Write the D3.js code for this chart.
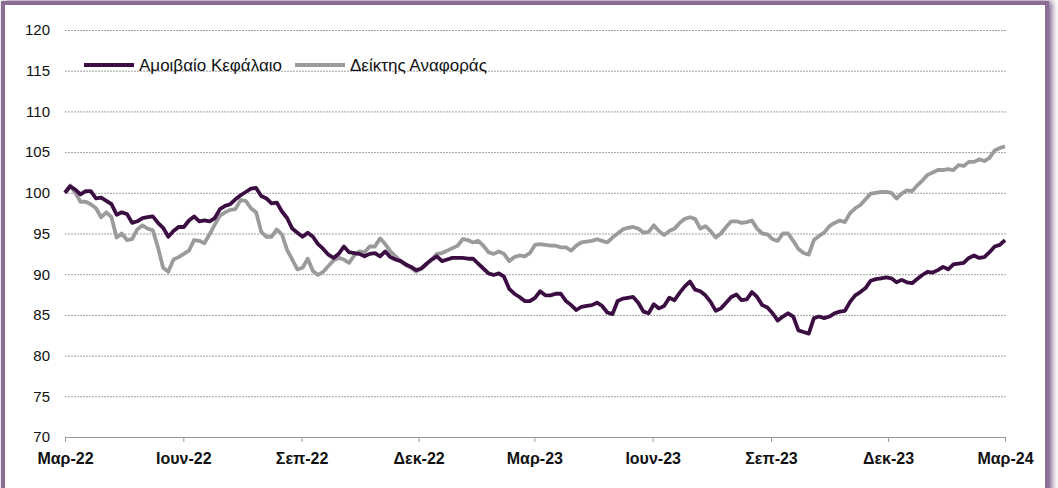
<!DOCTYPE html>
<html>
<head>
<meta charset="utf-8">
<script src="https://cdn.jsdelivr.net/npm/d3@7"></script>
<style>
  body { margin: 0; background: #fff; }
  text { font-family: "Liberation Sans", Arial, sans-serif; }
</style>
</head>
<body>
<div id="chart"></div>
<script>
// series names and tick labels
var seriesNames = ["Αμοιβαίο Κεφάλαιο", "Δείκτης Αναφοράς"];
var tickLabels = ["Μαρ-22", "Ιουν-22", "Σεπ-22", "Δεκ-22", "Μαρ-23", "Ιουν-23", "Σεπ-23", "Δεκ-23", "Μαρ-24"];
var tickDates = ["2022-03-01", "2022-06-01", "2022-09-01", "2022-12-01", "2023-03-01", "2023-06-01", "2023-09-01", "2023-12-01", "2024-03-01"];
var yTicks = [70, 75, 80, 85, 90, 95, 100, 105, 110, 115, 120];

// fund (evenly spaced Mar-22 .. Mar-24)
var fund = [100.0, 100.8, 100.4, 99.8, 100.2, 100.2, 99.3, 99.4, 99.0, 98.6,
    97.3, 97.6, 97.4, 96.3, 96.5, 96.9, 97.0, 97.1, 96.3, 95.7,
    94.6, 95.3, 95.8, 95.8, 96.6, 97.1, 96.5, 96.6, 96.5, 96.9,
    98.0, 98.4, 98.6, 99.2, 99.7, 100.1, 100.5, 100.6, 99.6, 99.3,
    98.7, 98.8, 97.7, 96.9, 95.6, 95.1, 94.6, 95.1, 94.6, 93.7,
    93.1, 92.4, 92.0, 92.5, 93.4, 92.7, 92.6, 92.5, 92.2, 92.5,
    92.6, 92.2, 92.8, 92.1, 91.8, 91.6, 91.2, 90.9, 90.5, 90.7,
    91.3, 91.8, 92.2, 91.6, 91.8, 92.0, 92.0, 92.0, 91.9, 91.9,
    91.3, 90.7, 90.1, 89.9, 90.1, 89.7, 88.2, 87.6, 87.2, 86.7,
    86.7, 87.1, 87.9, 87.4, 87.4, 87.6, 87.6, 86.7, 86.2, 85.6,
    86.0, 86.1, 86.2, 86.5, 86.1, 85.3, 85.1, 86.7, 87.0, 87.1,
    87.2, 86.5, 85.4, 85.2, 86.3, 85.8, 86.1, 87.1, 86.8, 87.7,
    88.5, 89.1, 88.1, 87.9, 87.4, 86.6, 85.5, 85.8, 86.5, 87.2,
    87.5, 86.8, 86.9, 87.8, 87.2, 86.2, 85.9, 85.2, 84.3, 84.8,
    85.2, 84.8, 83.1, 82.9, 82.7, 84.6, 84.8, 84.6, 84.8, 85.2,
    85.4, 85.5, 86.6, 87.4, 87.8, 88.3, 89.2, 89.4, 89.5, 89.6,
    89.5, 89.0, 89.3, 89.0, 88.9, 89.4, 89.9, 90.3, 90.2, 90.5,
    90.9, 90.6, 91.2, 91.3, 91.4, 92.0, 92.3, 92.0, 92.1, 92.7,
    93.4, 93.6, 94.2];

// benchmark
var benchmark = [100.0, 100.9, 100.0, 98.9, 98.9, 98.6, 98.1, 97.0, 97.6, 97.0,
    94.5, 95.0, 94.2, 94.3, 95.5, 96.0, 95.6, 95.4, 93.3, 90.8,
    90.3, 91.8, 92.1, 92.5, 92.9, 94.2, 94.1, 93.8, 94.9, 96.1,
    97.2, 97.6, 97.9, 98.0, 99.1, 99.0, 98.1, 97.6, 95.2, 94.6,
    94.6, 95.5, 94.9, 93.0, 91.8, 90.6, 90.8, 91.9, 90.4, 89.9,
    90.3, 91.0, 91.7, 92.0, 91.8, 91.4, 92.3, 92.8, 92.7, 93.4,
    93.4, 94.4, 93.7, 92.8, 92.2, 91.6, 91.1, 90.8, 90.3, 90.7,
    91.2, 91.8, 92.5, 92.6, 92.9, 93.2, 93.5, 94.3, 94.2, 93.9,
    94.1, 93.5, 92.7, 92.5, 92.8, 92.5, 91.6, 92.1, 92.3, 92.2,
    92.6, 93.6, 93.7, 93.6, 93.5, 93.5, 93.3, 93.3, 92.9, 93.5,
    93.9, 94.0, 94.1, 94.3, 94.1, 93.9, 94.5, 95.0, 95.5, 95.7,
    95.8, 95.6, 95.1, 95.2, 96.0, 95.3, 94.8, 95.3, 95.6, 96.3,
    96.8, 97.0, 96.8, 95.6, 95.9, 95.3, 94.5, 95.0, 95.8, 96.5,
    96.5, 96.3, 96.4, 96.6, 95.6, 95.0, 94.9, 94.3, 94.1, 95.0,
    95.0, 94.1, 93.1, 92.6, 92.4, 94.2, 94.7, 95.1, 95.9, 96.3,
    96.6, 96.4, 97.5, 98.1, 98.5, 99.2, 99.9, 100.0, 100.1, 100.1,
    100.0, 99.3, 99.9, 100.3, 100.2, 100.9, 101.5, 102.2, 102.5, 102.8,
    102.8, 102.9, 102.8, 103.4, 103.3, 103.8, 103.8, 104.1, 103.9, 104.3,
    105.2, 105.5, 105.7];

var colors = ["#3b0d42", "#9b9b9b"];

var W = 1058, H = 488;
var margin = {top: 30, right: 53, bottom: 51, left: 65};
var width = W - margin.left - margin.right,
    height = H - margin.top - margin.bottom;

var parse = d3.timeParse("%Y-%m-%d");
var start = parse(tickDates[0]), end = parse(tickDates[tickDates.length - 1]);
var n = fund.length;
var dates = d3.range(n).map(function (i) {
    return new Date(+start + (end - start) * i / (n - 1));
});

var svg = d3.select("#chart").append("svg")
    .attr("width", W)
    .attr("height", H);

// frame with purple shadow
var defs = svg.append("defs");
var f = defs.append("filter").attr("id", "shadow")
    .attr("x", "-5%").attr("y", "-5%").attr("width", "110%").attr("height", "115%");
f.append("feDropShadow").attr("dx", 3).attr("dy", 0).attr("stdDeviation", 3)
    .attr("flood-color", "#6d4c78").attr("flood-opacity", 0.9);

svg.append("rect").attr("x", 0).attr("y", 0).attr("width", W).attr("height", H).attr("fill", "#fff");
svg.append("rect")
    .attr("x", 3).attr("y", 3)
    .attr("width", 1044).attr("height", 520)
    .attr("fill", "#fff")
    .attr("stroke", "#8b6e93")
    .attr("stroke-width", 4)
    .attr("filter", "url(#shadow)");

var g = svg.append("g")
    .attr("transform", "translate(" + margin.left + "," + margin.top + ")");

var x = d3.scaleTime().domain([start, end]).range([0, width]);
var y = d3.scaleLinear().domain([70, 120]).range([height, 0]);

// dotted gridlines
g.append("g")
    .selectAll("line")
    .data(yTicks.slice(1))
    .enter()
    .append("line")
    .attr("x1", 0)
    .attr("x2", width + 2)
    .attr("y1", function (d) { return y(d) + 0.5; })
    .attr("y2", function (d) { return y(d) + 0.5; })
    .attr("stroke", "#a0a0a0")
    .attr("stroke-width", 1)
    .attr("stroke-dasharray", "2,1");

// Y axis labels
var yAxis = g.append("g")
    .call(d3.axisLeft(y).tickValues(yTicks).tickSize(0).tickPadding(15));
yAxis.select(".domain").remove();
yAxis.selectAll("text")
    .style("font-size", "15px")
    .attr("fill", "#111");

// X axis
var xAxis = g.append("g")
    .attr("transform", "translate(0," + height + ")")
    .call(d3.axisBottom(x)
        .tickValues(tickDates.map(parse))
        .tickFormat(function (d, i) { return tickLabels[i]; })
        .tickSize(5).tickSizeOuter(0).tickPadding(11));
xAxis.select(".domain").attr("stroke", "#9a9a9a");
xAxis.selectAll(".tick line").attr("stroke", "#9a9a9a");
xAxis.selectAll("text")
    .style("font-size", "16px")
    .style("font-weight", "bold")
    .attr("fill", "#111");

// lines
var line = d3.line()
    .x(function (d) { return x(d[0]); })
    .y(function (d) { return y(d[1]); });

[benchmark, fund].forEach(function (vals, j) {
    var idx = j === 0 ? 1 : 0;
    g.append("path")
        .datum(dates.map(function (d, i) { return [d, vals[i]]; }))
        .attr("fill", "none")
        .attr("stroke", colors[idx])
        .attr("stroke-width", 3.8)
        .attr("stroke-linejoin", "round")
        .attr("d", line);
});

// legend
var legendX = [84, 295];
var legend = svg.selectAll(".legend")
    .data(seriesNames)
    .enter()
    .append("g")
    .attr("class", "legend")
    .attr("transform", function (d, i) { return "translate(" + legendX[i] + ",65)"; });

legend.append("line")
    .attr("x1", 0).attr("x2", 50)
    .attr("stroke", function (d, i) { return colors[i]; })
    .attr("stroke-width", 4);

legend.append("text")
    .attr("x", 55)
    .attr("y", 6)
    .style("font-size", "17px")
    .attr("fill", "#111")
    .text(function (d) { return d; });
</script>
</body>
</html>
